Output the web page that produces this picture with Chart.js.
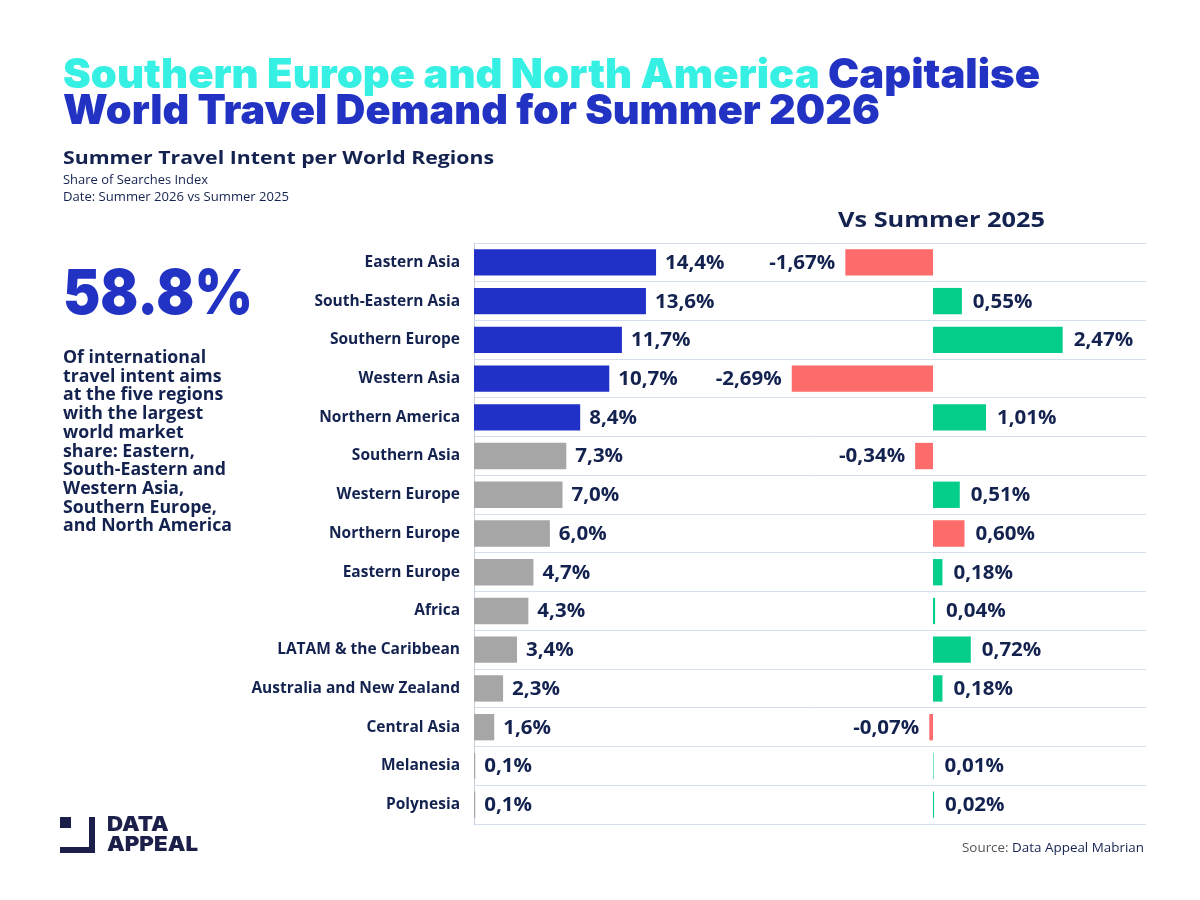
<!DOCTYPE html>
<html>
<head>
<meta charset="utf-8">
<script src="https://cdn.jsdelivr.net/npm/chart.js@4.4.1/dist/chart.umd.min.js"></script>
<style>
  html,body{margin:0;padding:0;background:#fff;}
  #wrap{position:relative;width:1200px;height:900px;overflow:hidden;background:#fff;font-family:"Open Sans",sans-serif;}
  #c{position:absolute;left:0;top:0;}
  .abs{position:absolute;white-space:nowrap;transform-origin:0 0;}
  .t{font-family:Inter,sans-serif;font-weight:900;font-size:41px;line-height:41px;color:#2233c4;}
  .t .cy{color:#35f0e3;}
  #sub{left:63px;top:145px;font-weight:700;font-size:18px;color:#14224f;}
  .s2{font-size:12.5px;color:#14224f;line-height:17px;}
  #vs{left:838px;top:205px;font-weight:700;font-size:21px;color:#14224f;}
  #big{left:63px;top:257px;font-family:Inter,sans-serif;font-weight:900;font-size:62px;line-height:70px;color:#2233c4;}
  #para{left:63px;top:348px;font-weight:700;font-size:17px;line-height:18.7px;color:#14224f;}
  #src{left:962px;top:838px;font-size:13px;color:#555;}
  #src span{color:#14224f;}
  .logo{position:absolute;background:#1c1f4a;}
  #logotxt{left:107px;top:814px;font-family:Inter,sans-serif;font-weight:900;font-size:20px;line-height:20px;color:#1c1f4a;}
</style>
</head>
<body>
<div id="wrap">
  <canvas id="c" width="1200" height="900"></canvas>
  <div class="abs t" style="left:63px;top:53px;" data-w="977"><span class="cy">Southern Europe and North America</span> Capitalise</div>
  <div class="abs t" style="left:63px;top:89px;" data-w="817">World Travel Demand for Summer 2026</div>
  <div id="sub" class="abs" data-w="431">Summer Travel Intent per World Regions</div>
  <div class="abs s2" style="left:63px;top:171px;" data-w="145">Share of Searches Index</div>
  <div class="abs s2" style="left:63px;top:188px;" data-w="226">Date: Summer 2026 vs Summer 2025</div>
  <div id="vs" class="abs" data-w="207">Vs Summer 2025</div>
  <div id="big" class="abs" data-w="190">58.8%</div>
  <div id="para" class="abs" data-w="169">Of international<br>travel intent aims<br>at the five regions<br>with the largest<br>world market<br>share: Eastern,<br>South-Eastern and<br>Western Asia,<br>Southern Europe,<br>and North America</div>
  <div class="logo" style="left:60px;top:817px;width:11px;height:11px;"></div>
  <div class="logo" style="left:89px;top:817px;width:6px;height:36px;"></div>
  <div class="logo" style="left:60px;top:847px;width:35px;height:6px;"></div>
  <div id="logotxt" class="abs" data-w="91">DATA<br>APPEAL</div>
  <div id="src" class="abs" data-w="182">Source: <span>Data Appeal Mabrian</span></div>
</div>
<script>
// ---- data ----
const regions = ["Eastern Asia","South-Eastern Asia","Southern Europe","Western Asia","Northern America","Southern Asia","Western Europe","Northern Europe","Eastern Europe","Africa","LATAM & the Caribbean","Australia and New Zealand","Central Asia","Melanesia","Polynesia"];
const share2026 = [14.4,13.6,11.7,10.7,8.4,7.3,7.0,6.0,4.7,4.3,3.4,2.3,1.6,0.1,0.1];
const changeVs2025 = [-1.67,0.55,2.47,-2.69,1.01,-0.34,0.51,0.60,0.18,0.04,0.72,0.18,-0.07,0.01,0.02];
const topRegionsCount = 5;
// ---- styles ----
const BLUE = "#2130c6", GREY = "#a6a6a6", GREEN = "#05cd8a", RED = "#fe6b6b", NAVY = "#13224f";
const deltaColorOverride = {7: RED}; // Northern Europe shown in red in the original
const shareColors = share2026.map((v,i)=> i < topRegionsCount ? BLUE : GREY);
const deltaColors = changeVs2025.map((v,i)=> deltaColorOverride[i] || (v < 0 ? RED : GREEN));

// stretch HTML text horizontally to match the reference widths
document.querySelectorAll('[data-w]').forEach(el=>{
  el.style.display = 'inline-block';
  const w = el.getBoundingClientRect().width;
  const target = parseFloat(el.dataset.w);
  if (w > 0) el.style.transform = 'scaleX(' + (target / w) + ')';
});

function fmt(v, d){ return v.toFixed(d).replace('.', ',') + '%'; }
const LABEL_STRETCH = 1.08;
function drawLabel(ctx, txt, x, y, alignRight){
  const w = ctx.measureText(txt).width * LABEL_STRETCH;
  ctx.save();
  ctx.translate(alignRight ? x - w : x, y);
  ctx.scale(LABEL_STRETCH, 1);
  ctx.textAlign = 'left';
  ctx.fillText(txt, 0, 0);
  ctx.restore();
}

const labelPlugin = {
  id:'valueLabels',
  afterDatasetsDraw(chart){
    const ctx = chart.ctx;
    ctx.save();
    ctx.fillStyle = NAVY;
    ctx.font = '700 19px "Open Sans"';
    ctx.textBaseline = 'middle';
    chart.getDatasetMeta(0).data.forEach((el,i)=>{
      drawLabel(ctx, fmt(share2026[i],1), el.x + 9, el.y + 1, false);
    });
    chart.getDatasetMeta(1).data.forEach((el,i)=>{
      const v = changeVs2025[i];
      if (v < 0) drawLabel(ctx, fmt(v,2), Math.min(el.x, el.base) - 10, el.y + 1, true);
      else drawLabel(ctx, fmt(v,2), Math.max(el.x, el.base) + 11, el.y + 1, false);
    });
    ctx.restore();
  }
};

new Chart(document.getElementById('c'), {
  type:'bar',
  data:{
    labels: regions,
    datasets:[
      {data: share2026, xAxisID:'x1', backgroundColor: shareColors, grouped:false, barPercentage:0.68, categoryPercentage:1},
      {data: changeVs2025, xAxisID:'x2', backgroundColor: deltaColors, grouped:false, barPercentage:0.68, categoryPercentage:1}
    ]
  },
  options:{
    indexAxis:'y',
    responsive:false,
    devicePixelRatio:1,
    animation:false,
    layout:{padding:{left:204, right:54, top:243, bottom:76}},
    plugins:{legend:{display:false}, tooltip:{enabled:false}},
    scales:{
      y:{
        type:'category',
        grid:{color:'#d5deeb', drawTicks:false, offset:true, lineWidth:1},
        border:{display:true, color:'#c5d0e2'},
        ticks:{color:NAVY, font:{family:'"Open Sans"', weight:'700', size:15.5}, padding:14},
        afterFit(s){ s.width = 270; }
      },
      x1:{type:'linear', position:'bottom', stack:'row', stackWeight:266, min:0, max:21.04, display:false},
      x2:{type:'linear', position:'bottom', stack:'row', stackWeight:406, min:-3.676, max:4.057, display:false}
    }
  },
  plugins:[labelPlugin]
});
</script>
</body>
</html>
